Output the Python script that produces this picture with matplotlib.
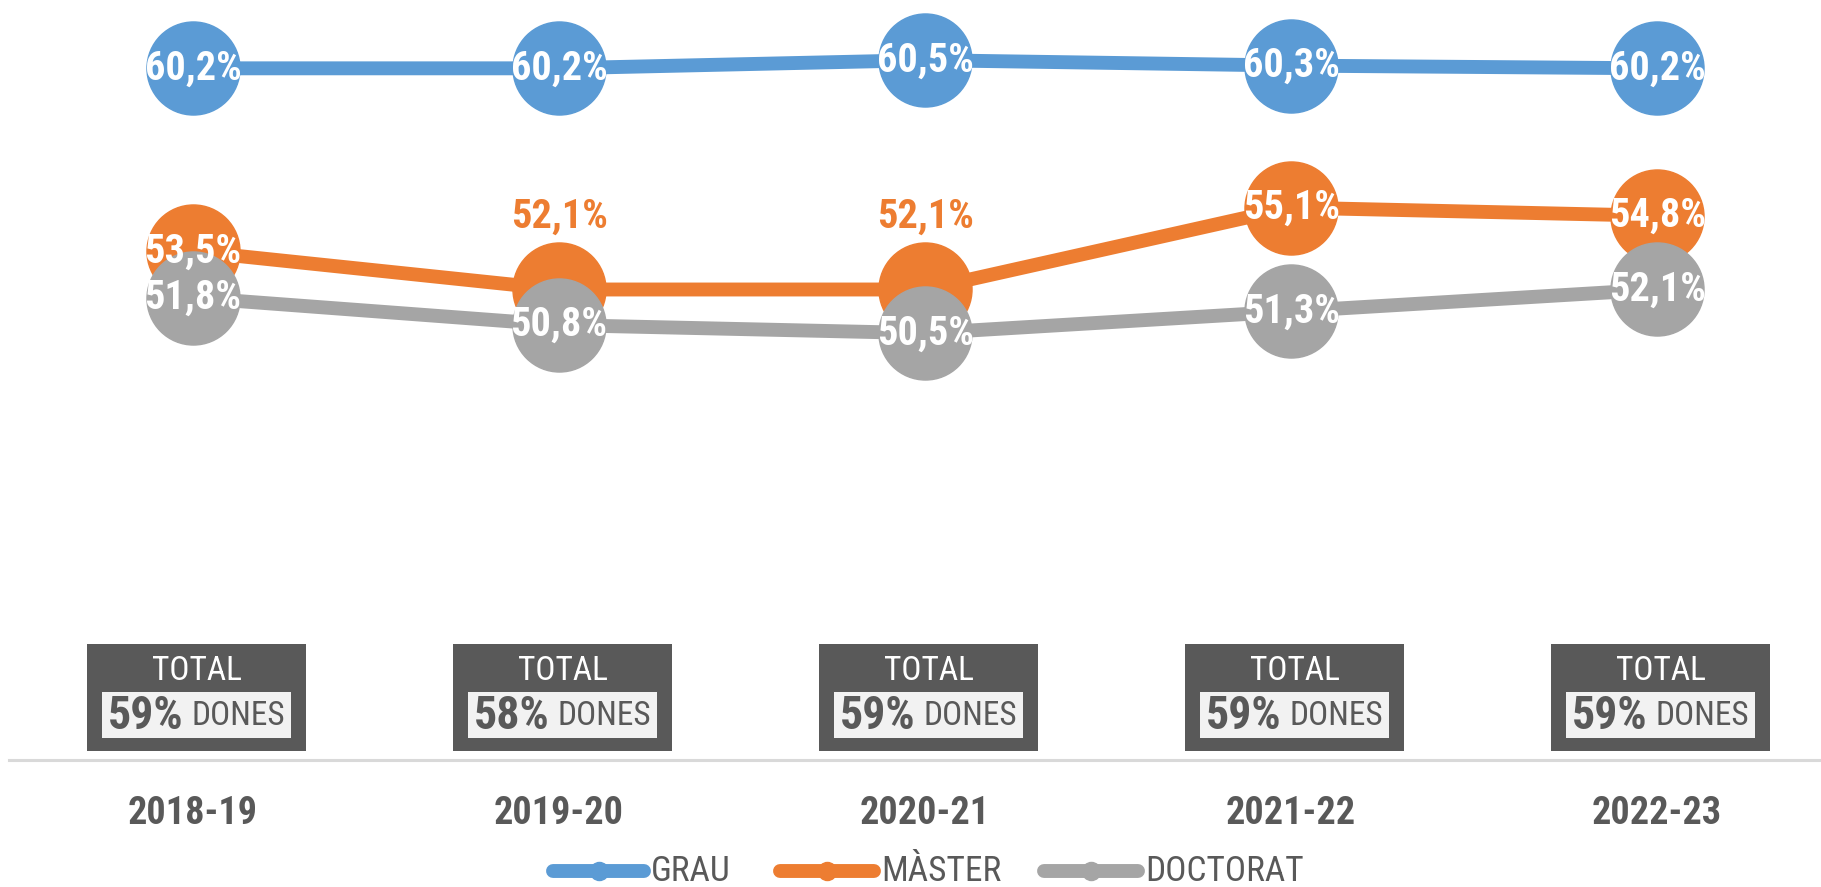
import matplotlib
matplotlib.use("Agg")
import matplotlib.pyplot as plt
import matplotlib.transforms as mtrans
from matplotlib import font_manager
from matplotlib.patches import Rectangle
from matplotlib.lines import Line2D


def pick_font(names):
    for n in names:
        try:
            font_manager.findfont(font_manager.FontProperties(family=n), fallback_to_default=False)
            return n
        except Exception:
            pass
    return "DejaVu Sans"


FONT = pick_font(["Roboto Condensed", "Liberation Sans Narrow", "Roboto", "Liberation Sans"])
plt.rcParams["font.family"] = [FONT, "DejaVu Sans"]

cursos = ["2018-19", "2019-20", "2020-21", "2021-22", "2022-23"]
grau = [60.2, 60.2, 60.5, 60.3, 60.2]
master = [53.5, 52.1, 52.1, 55.1, 54.8]
doctorat = [51.8, 50.8, 50.5, 51.3, 52.1]
total_dones = [59, 58, 59, 59, 59]

blue = "#5b9bd5"
orange = "#ed7d31"
grey = "#a5a5a5"
dark = "#595959"

W, H = 1821, 887
fig = plt.figure(figsize=(W / 100 + 0.002, H / 100 + 0.002), dpi=100)
ax = fig.add_axes([9 / W, (H - 760) / H, 1 - 9 / W, 760 / H])
x = list(range(len(cursos)))
ax.set_xlim((9 - 193) / 366, (W - 193) / 366)
ax.set_ylim(60.2 - (760 - 68.5) / 27.3, 60.2 + 68.5 / 27.3)

for vals, col, z in [(grau, blue, 2), (master, orange, 3), (doctorat, grey, 4)]:
    ax.plot(x, vals, color=col, lw=10, marker="o", markersize=67,
            solid_capstyle="butt", zorder=z)

def fmt(v):
    return f"{v:.1f}%".replace(".", ",")

for vals, name in [(grau, "g"), (master, "m"), (doctorat, "d")]:
    for i, v in enumerate(vals):
        if name == "m" and i in (1, 2):
            ax.annotate(fmt(v), (i, v), xytext=(0, 73), textcoords="offset pixels",
                        ha="center", va="center", color=orange, fontsize=29,
                        fontweight="bold", zorder=10)
        else:
            ax.text(i, v, fmt(v), ha="center", va="center", color="white",
                    fontsize=29, fontweight="bold", zorder=10)

# TOTAL boxes
tr = mtrans.blended_transform_factory(ax.transData, ax.transAxes)
bw = 219 / 366
iw = 189 / 366
for i, t in enumerate(total_dones):
    cx = i + 3.5 / 366
    ax.add_patch(Rectangle((cx - bw / 2, (760 - 751) / 760), bw, 107 / 760,
                           transform=tr, facecolor=dark, edgecolor="none", zorder=5))
    ax.add_patch(Rectangle((cx - iw / 2, (760 - 738) / 760), iw, 46 / 760,
                           transform=tr, facecolor="#f2f2f2", edgecolor="none", zorder=6))
    ax.text(cx, (760 - 671) / 760, "TOTAL", transform=tr, ha="center", va="center",
            color="white", fontsize=24, zorder=7)
    ax.annotate(f"{t}%", (cx, (760 - 716) / 760), xycoords=tr, xytext=(-13, 0),
                textcoords="offset pixels", ha="right", va="center", color=dark,
                fontsize=33, fontweight="bold", zorder=7)
    ax.annotate("DONES", (cx, (760 - 716) / 760), xycoords=tr, xytext=(-5, 0),
                textcoords="offset pixels", ha="left", va="center", color=dark,
                fontsize=24, zorder=7)

for s in ["top", "left", "right"]:
    ax.spines[s].set_visible(False)
ax.spines["bottom"].set_color("#d9d9d9")
ax.spines["bottom"].set_linewidth(2.2)
ax.set_yticks([])
ax.set_xticks(x)
ax.set_xticklabels(cursos, fontsize=27.5, fontweight="bold", color=dark)
ax.tick_params(axis="x", length=0, pad=25)

# legend
ly = (H - 871) / H
for (x0, x1, tx, col, lab) in [(553, 644, 651, blue, "GRAU"),
                               (780, 874, 881, orange, "MÀSTER"),
                               (1044, 1138, 1145, grey, "DOCTORAT")]:
    fig.add_artist(Line2D([x0 / W, x1 / W], [ly, ly], transform=fig.transFigure,
                          color=col, lw=10, solid_capstyle="round"))
    fig.add_artist(Line2D([(x0 + x1) / 2 / W], [ly], transform=fig.transFigure,
                          color=col, marker="o", markersize=13))
    fig.text(tx / W, ly, lab, ha="left", va="center", color=dark, fontsize=25.5)

fig.savefig("out.png", dpi=100, facecolor="white")
